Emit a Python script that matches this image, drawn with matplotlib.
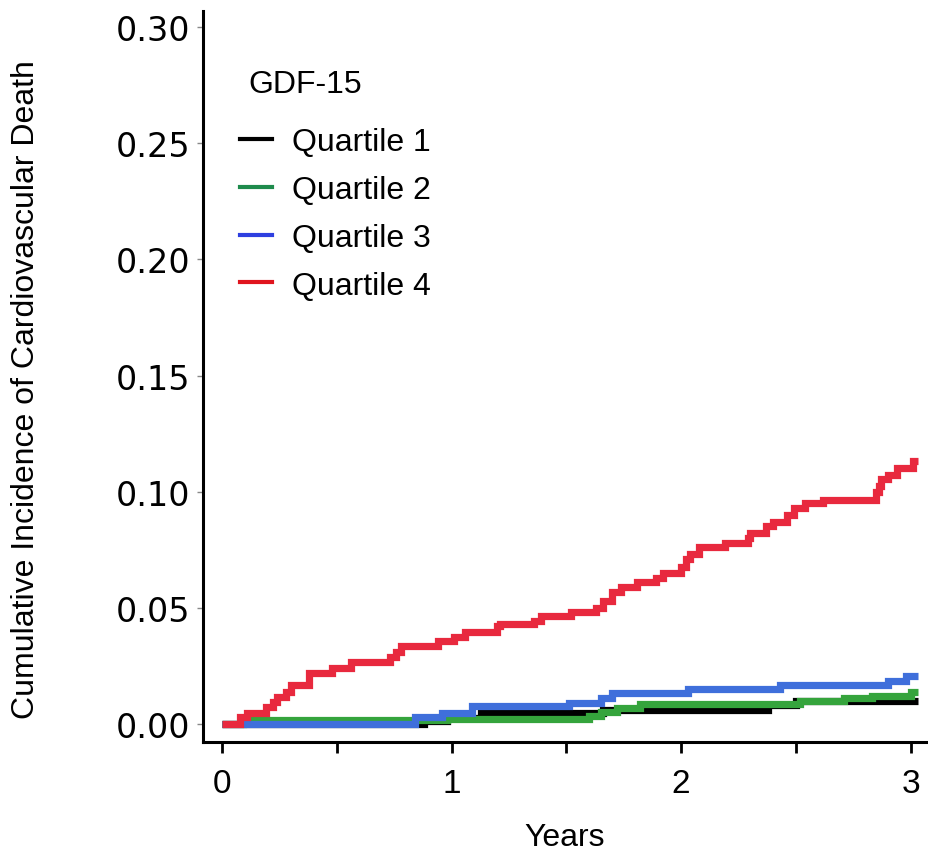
import numpy as np
import matplotlib.pyplot as plt
from matplotlib.lines import Line2D

# step curves: (start time of step, cumulative incidence)
q1_t = [0, 0.88, 0.98, 1.13, 1.66, 2.38, 2.50, 3.03]
q1_y = [0, 0.0013, 0.0025, 0.0047, 0.006, 0.0082, 0.0099, 0.0099]

q2_t = [0, 0.09, 0.98, 1.60, 1.65, 1.72, 1.82, 2.52, 2.71, 2.83, 3.00, 3.03]
q2_y = [0, 0.0017, 0.0022, 0.0035, 0.005, 0.0069, 0.0086, 0.0099, 0.0112, 0.012, 0.0138, 0.0138]

q3_t = [0, 0.84, 0.96, 1.09, 1.51, 1.65, 1.70, 2.03, 2.43, 2.90, 2.98, 3.03]
q3_y = [0, 0.003, 0.0047, 0.0078, 0.0088, 0.011, 0.0134, 0.015, 0.0168, 0.0185, 0.0207, 0.0207]

q4_t = [0, 0.08, 0.11, 0.19, 0.22, 0.24, 0.28, 0.30, 0.38, 0.48, 0.56, 0.73, 0.76, 0.78,
        0.94, 1.01, 1.06, 1.20, 1.21, 1.36, 1.39, 1.52, 1.63, 1.66, 1.70, 1.74, 1.81,
        1.89, 1.92, 2.00, 2.02, 2.04, 2.08, 2.19, 2.29, 2.30, 2.37, 2.40, 2.46, 2.49,
        2.54, 2.62, 2.85, 2.86, 2.87, 2.90, 2.94, 3.01, 3.03]
q4_y = [0, 0.003, 0.0047, 0.0073, 0.0095, 0.0116, 0.0138, 0.0168, 0.022, 0.024, 0.0267, 0.029, 0.031, 0.0336,
        0.0358, 0.0375, 0.0397, 0.042, 0.043, 0.0444, 0.0465, 0.0482, 0.050, 0.053, 0.057, 0.059, 0.061,
        0.063, 0.065, 0.0676, 0.071, 0.073, 0.076, 0.078, 0.080, 0.082, 0.085, 0.087, 0.090, 0.093,
        0.095, 0.0966, 0.100, 0.1026, 0.1056, 0.107, 0.110, 0.113, 0.113]

labels = ["Quartile 1", "Quartile 2", "Quartile 3", "Quartile 4"]
line_colors = ["#000000", "#35A43C", "#3F6FDB", "#E8293E"]
legend_colors = ["#000000", "#1E8B4C", "#2E3FE0", "#E0141E"]

fig = plt.figure(figsize=(9.29, 8.54), dpi=100)
ax = fig.add_axes([0.2185, 0.130, 0.7815, 0.856])

curves = [(q1_t, q1_y), (q2_t, q2_y), (q3_t, q3_y), (q4_t, q4_y)]
for (t, y), c in zip(curves, line_colors):
    ax.step(t, y, where="post", color=c, lw=5.2,
            solid_capstyle="butt", solid_joinstyle="miter")

ax.set_xlim(-0.083, 3.08)
ax.set_ylim(-0.0078, 0.307)

for s in ["top", "right"]:
    ax.spines[s].set_visible(False)
for s in ["left", "bottom"]:
    ax.spines[s].set_linewidth(2.2)

ax.set_xticks([0, 1, 2, 3])
ax.set_xticks([0.5, 1.5, 2.5], minor=True)
ax.set_xticklabels(["0", "1", "2", "3"], family=["Liberation Sans Narrow", "Liberation Sans"], fontsize=24)
ax.tick_params(axis="x", which="both", length=8, width=2, pad=11)

yt = [0, 0.05, 0.10, 0.15, 0.20, 0.25, 0.30]
ax.set_yticks(yt)
ax.set_yticklabels([f"{v:.2f}" for v in yt], family="DejaVu Sans", fontsize=24)
ax.tick_params(axis="y", length=4, width=1, color="#888888", pad=5)

fig.text(26 / 929, 1 - 390 / 854, "Cumulative Incidence of Cardiovascular Death",
         rotation=90, ha="center", va="center", fontsize=23, family="Liberation Sans")
fig.text(565 / 929, 1 - 838 / 854, "Years", ha="center", va="center", fontsize=23,
         family=["Liberation Sans Narrow", "Liberation Sans"])

# legend title drawn separately so its gap to the entries matches
fig.text(248 / 929, 1 - 85 / 854, "GDF-15", ha="left", va="center",
         fontsize=23, family="Liberation Sans")
handles = [Line2D([0], [0], color=c, lw=3) for c in legend_colors]
leg = ax.legend(handles, labels, loc="upper left",
                bbox_to_anchor=(240 / 929, 1 - 128 / 854), bbox_transform=fig.transFigure,
                frameon=False, prop={"family": "Liberation Sans", "size": 23},
                handlelength=1.0, handletextpad=0.62, labelspacing=0.56,
                borderpad=0, borderaxespad=0)

fig.savefig("out.png", dpi=100)
